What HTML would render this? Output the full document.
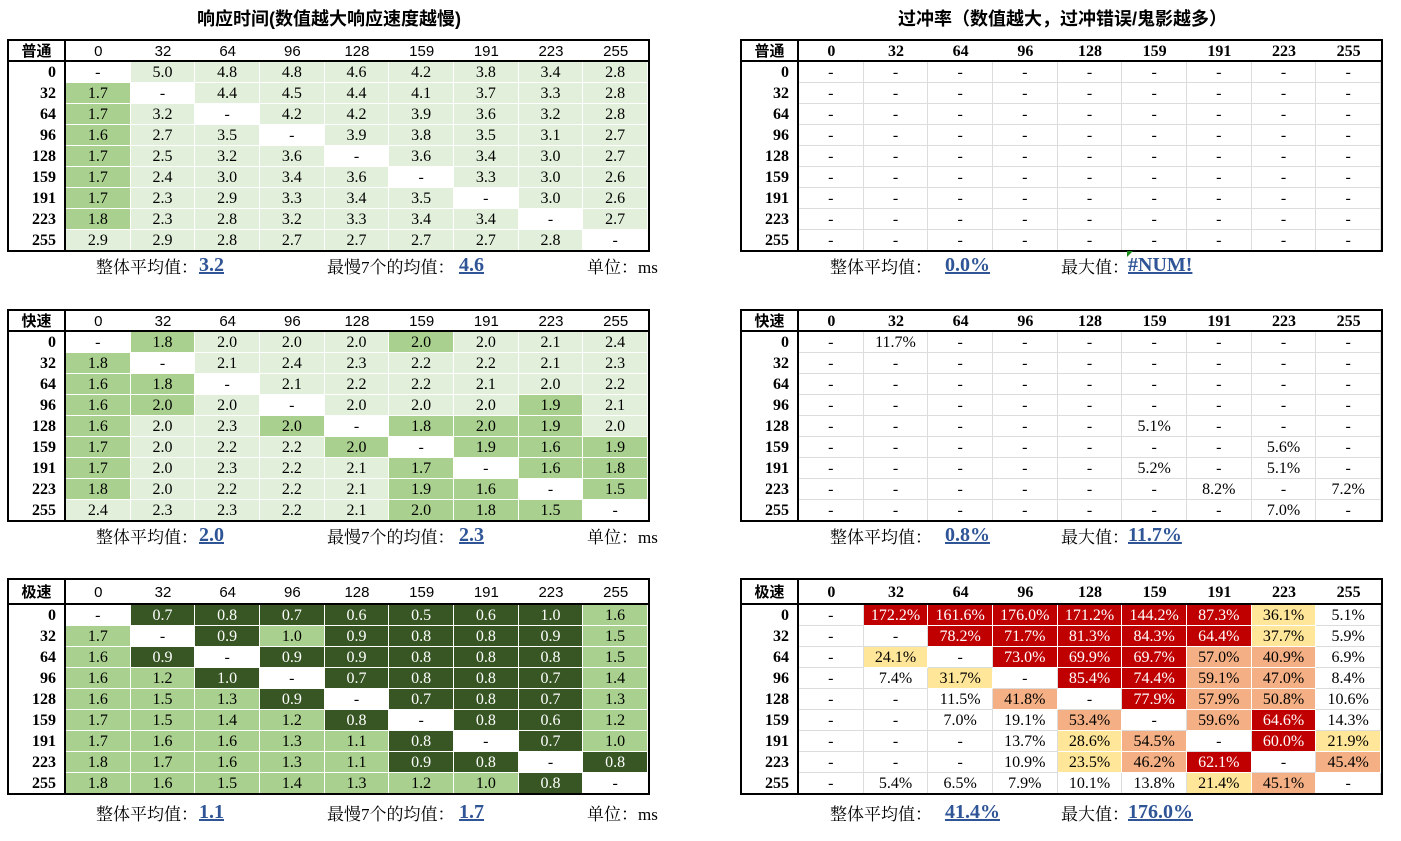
<!DOCTYPE html>
<html><head><meta charset="utf-8">
<style>
body{margin:0;width:1401px;height:841px;background:#fff;position:relative;overflow:hidden;font-family:"Liberation Serif","Noto Serif CJK SC",serif;}
.c{position:absolute;box-sizing:border-box;text-align:center;font-size:16px;border-right:1px solid #fff;border-bottom:1px solid #fff;}
.g{border-color:#dcdcdc;}
.box{position:absolute;border:2px solid #000;box-sizing:border-box;overflow:hidden;}
.title{position:absolute;top:5px;font-size:18px;font-weight:bold;font-family:"Liberation Sans","Noto Sans CJK SC",sans-serif;text-align:center;}
.lab{position:absolute;font-size:17px;font-family:"Liberation Serif","Noto Serif CJK SC",serif;}
.val{position:absolute;font-size:20px;font-weight:bold;color:#2f5597;text-decoration:underline;text-decoration-thickness:2px;}
</style></head>
<body>
<div class="title" style="left:8px;width:642px;">响应时间(数值越大响应速度越慢)</div>
<div class="title" style="left:741px;width:643px;">过冲率（数值越大，过冲错误/鬼影越多）</div>
<div id="root"></div>
<script>
const levels=["0","32","64","96","128","159","191","223","255"];
const rtNormal=[
"-,5.0,4.8,4.8,4.6,4.2,3.8,3.4,2.8","1.7,-,4.4,4.5,4.4,4.1,3.7,3.3,2.8","1.7,3.2,-,4.2,4.2,3.9,3.6,3.2,2.8",
"1.6,2.7,3.5,-,3.9,3.8,3.5,3.1,2.7","1.7,2.5,3.2,3.6,-,3.6,3.4,3.0,2.7","1.7,2.4,3.0,3.4,3.6,-,3.3,3.0,2.6",
"1.7,2.3,2.9,3.3,3.4,3.5,-,3.0,2.6","1.8,2.3,2.8,3.2,3.3,3.4,3.4,-,2.7","2.9,2.9,2.8,2.7,2.7,2.7,2.7,2.8,-"];
const rtNormalShade=["WLLLLLLLL","MWLLLLLLL","MLWLLLLLL","MLLWLLLLL","MLLLWLLLL","MLLLLWLLL","MLLLLLWLL","MLLLLLLWL","LLLLLLLLW"];
const rtFast=[
"-,1.8,2.0,2.0,2.0,2.0,2.0,2.1,2.4","1.8,-,2.1,2.4,2.3,2.2,2.2,2.1,2.3","1.6,1.8,-,2.1,2.2,2.2,2.1,2.0,2.2",
"1.6,2.0,2.0,-,2.0,2.0,2.0,1.9,2.1","1.6,2.0,2.3,2.0,-,1.8,2.0,1.9,2.0","1.7,2.0,2.2,2.2,2.0,-,1.9,1.6,1.9",
"1.7,2.0,2.3,2.2,2.1,1.7,-,1.6,1.8","1.8,2.0,2.2,2.2,2.1,1.9,1.6,-,1.5","2.4,2.3,2.3,2.2,2.1,2.0,1.8,1.5,-"];
const rtFastShade=["WMLLLMLLL","MWLLLLLLL","MMWLLLLLL","MMLWLLLML","MLLMWMMML","MLLLMWMMM","MLLLLMWMM","MLLLLMMWM","LLLLLMMMW"];
const rtExtreme=[
"-,0.7,0.8,0.7,0.6,0.5,0.6,1.0,1.6","1.7,-,0.9,1.0,0.9,0.8,0.8,0.9,1.5","1.6,0.9,-,0.9,0.9,0.8,0.8,0.8,1.5",
"1.6,1.2,1.0,-,0.7,0.8,0.8,0.7,1.4","1.6,1.5,1.3,0.9,-,0.7,0.8,0.7,1.3","1.7,1.5,1.4,1.2,0.8,-,0.8,0.6,1.2",
"1.7,1.6,1.6,1.3,1.1,0.8,-,0.7,1.0","1.8,1.7,1.6,1.3,1.1,0.9,0.8,-,0.8","1.8,1.6,1.5,1.4,1.3,1.2,1.0,0.8,-"];
const rtExtremeShade=["WDDDDDDDM","MWDMDDDDM","MDWDDDDDM","MMDWDDDDM","MMMDWDDDM","MMMMDWDDM","MMMMMDWDM","MMMMMDDWD","MMMMMMMDW"];
const osNormal=["-,-,-,-,-,-,-,-,-","-,-,-,-,-,-,-,-,-","-,-,-,-,-,-,-,-,-","-,-,-,-,-,-,-,-,-","-,-,-,-,-,-,-,-,-","-,-,-,-,-,-,-,-,-","-,-,-,-,-,-,-,-,-","-,-,-,-,-,-,-,-,-","-,-,-,-,-,-,-,-,-"];
const osFast=["-,11.7%,-,-,-,-,-,-,-","-,-,-,-,-,-,-,-,-","-,-,-,-,-,-,-,-,-","-,-,-,-,-,-,-,-,-","-,-,-,-,-,5.1%,-,-,-",
"-,-,-,-,-,-,-,5.6%,-","-,-,-,-,-,5.2%,-,5.1%,-","-,-,-,-,-,-,8.2%,-,7.2%","-,-,-,-,-,-,-,7.0%,-"];
const osExtreme=[
"-,172.2%,161.6%,176.0%,171.2%,144.2%,87.3%,36.1%,5.1%","-,-,78.2%,71.7%,81.3%,84.3%,64.4%,37.7%,5.9%",
"-,24.1%,-,73.0%,69.9%,69.7%,57.0%,40.9%,6.9%","-,7.4%,31.7%,-,85.4%,74.4%,59.1%,47.0%,8.4%",
"-,-,11.5%,41.8%,-,77.9%,57.9%,50.8%,10.6%","-,-,7.0%,19.1%,53.4%,-,59.6%,64.6%,14.3%",
"-,-,-,13.7%,28.6%,54.5%,-,60.0%,21.9%","-,-,-,10.9%,23.5%,46.2%,62.1%,-,45.4%","-,5.4%,6.5%,7.9%,10.1%,13.8%,21.4%,45.1%,-"];

const greenFill={W:"#ffffff",L:"#e2efda",M:"#a9d08e",D:"#375623"};
function redFill(s){const v=parseFloat(s);if(isNaN(v))return "#fff";if(v>=60)return "#c00000";if(v>=40)return "#f4b084";if(v>=20)return "#ffe699";return "#fff";}

const root=document.getElementById('root');
function table(name,x,y,headH,label,rows,shade,right){
  const W=57,total=639,CW=(total-W)/9,RH=21,H=headH+RH*9;
  const box=document.createElement('div');box.className='box';
  
  
  box.style.cssText=`left:${x}px;top:${y}px;width:${total+4}px;height:${H+3}px;`;
  root.appendChild(box);
  const inner=(l,t,w,h,txt,css,cls)=>{const d=document.createElement('div');d.className='c '+(cls||'');d.textContent=txt;
    d.style.cssText=`left:${l}px;top:${t}px;width:${w}px;height:${h}px;line-height:${h}px;`+css;box.appendChild(d);return d;};
  const corner=inner(0,0,W,headH,label,'font-weight:bold;font-family:"Liberation Sans","Noto Sans CJK SC",sans-serif;font-size:15px;border-right:2px solid #000;border-bottom:2px solid #000;');
  
  
  levels.forEach((lv,i)=>{
    const h=inner(W+i*CW,0,CW,headH,lv,(right?'font-weight:bold;':'font-family:"Liberation Sans",sans-serif;font-size:15px;')+'border-right:none;border-bottom:2px solid #000;');
    
    
    const r=inner(0,headH+i*RH,W,RH,lv,'font-weight:bold;text-align:right;padding-right:8px;border-right:2px solid #000;border-bottom:none;');
    
    
  });
  rows.forEach((row,ri)=>{
    row.split(',').forEach((v,ci)=>{
      let bg,col='#000',cls='';
      if(right){bg=redFill(v);if(bg=='#c00000')col='#fff';if(bg=='#fff')cls='g';}
      else{const k=shade[ri][ci];bg=greenFill[k];if(k=='D')col='#fff';}
      const d=inner(W+ci*CW,headH+ri*RH,CW,RH,v,`background:${bg};color:${col};`,cls);
      
      
    });
  });
}
function lab(name,x,y,txt){const d=document.createElement('div');d.className='lab';d.style.cssText=`left:${x}px;top:${y}px;`;d.textContent=txt;
  
  
  root.appendChild(d);}
function val(name,x,y,txt){const d=document.createElement('div');d.className='val';d.style.cssText=`left:${x}px;top:${y}px;`;d.textContent=txt;
  
  
  root.appendChild(d);}

table('rt-normal-table',7,39,21,'普通',rtNormal,rtNormalShade,false);
table('rt-fast-table',7,309,21,'快速',rtFast,rtFastShade,false);
table('rt-extreme-table',7,578,25,'极速',rtExtreme,rtExtremeShade,false);
table('os-normal-table',740,39,21,'普通',osNormal,null,true);
table('os-fast-table',740,309,21,'快速',osFast,null,true);
table('os-extreme-table',740,578,25,'极速',osExtreme,null,true);

const rtSum=[["3.2","4.6",253],["2.0","2.3",523],["1.1","1.7",800]];
rtSum.forEach(s=>{lab('avg-label',96,s[2],'整体平均值：');val('avg-value',199,s[2]+1,s[0]);
  lab('slow7-label',327,s[2],'最慢7个的均值：');val('slow7-value',459,s[2]+1,s[1]);
  lab('unit-label',587,s[2],'单位：ms');});
const osSum=[["0.0%","#NUM!",253],["0.8%","11.7%",523],["41.4%","176.0%",800]];
osSum.forEach(s=>{lab('avg-label',830,s[2],'整体平均值：');val('avg-value',945,s[2]+1,s[0]);
  lab('max-label',1061,s[2],'最大值：');val('max-value',1128,s[2]+1,s[1]);});
const tri=document.createElement('div');


tri.style.cssText='position:absolute;left:1127px;top:251px;width:0;height:0;border-top:6px solid #1a8a1a;border-right:6px solid transparent;';
root.appendChild(tri);
</script>
</body></html>
